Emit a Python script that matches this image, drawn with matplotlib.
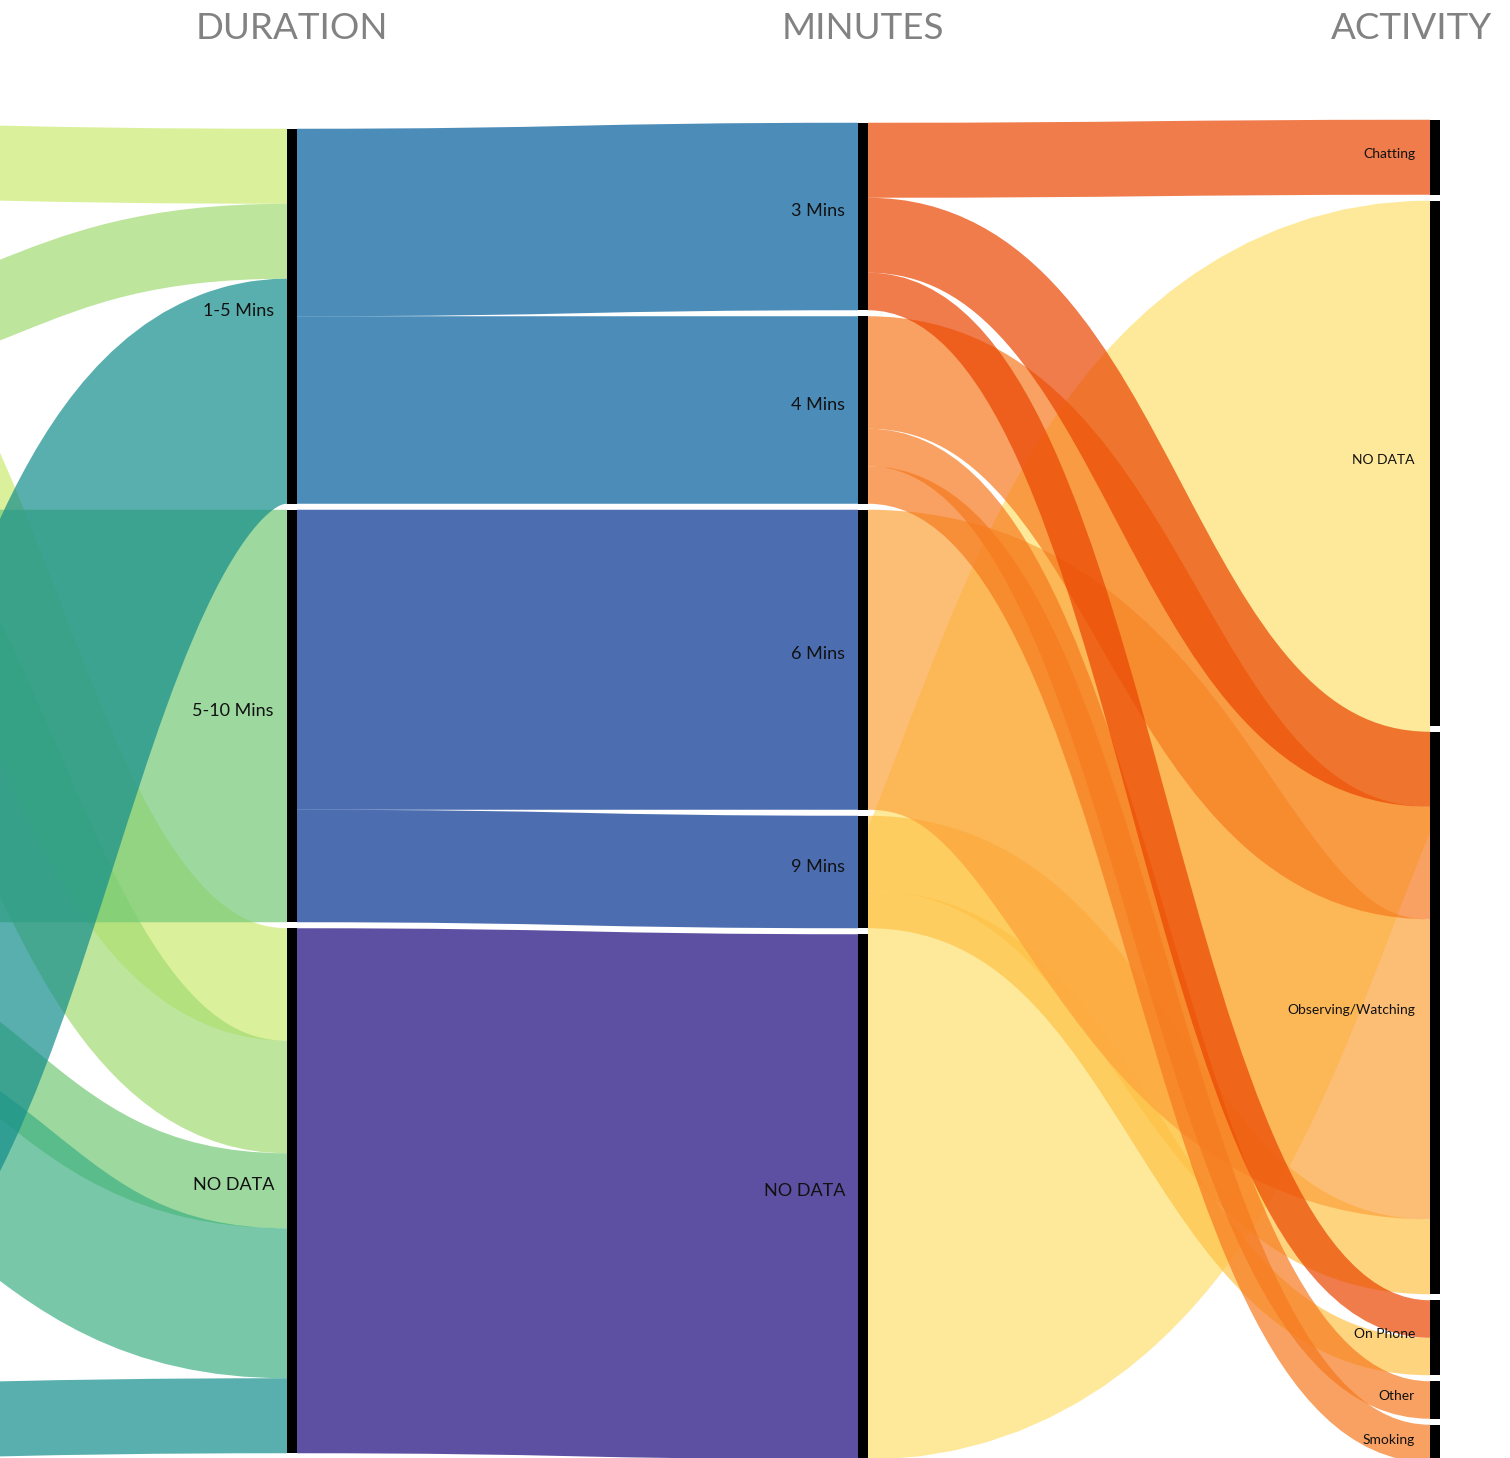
"""Three-column sankey: DURATION -> MINUTES -> ACTIVITY (first column cut off on the left)."""

import matplotlib.pyplot as plt
import numpy as np
from matplotlib.colors import to_rgb
from matplotlib.patches import PathPatch, Rectangle
from matplotlib.path import Path

W, H, DPI = 1510, 1458, 100

# node names per column, top to bottom; the first column sits left of the picture
SOURCE_NODES = ["S1", "S2", "S3", "S4", "S5"]
DURATION_NODES = ["1-5 Mins", "5-10 Mins", "NO DATA"]
MINUTES_NODES = ["3 Mins", "4 Mins", "6 Mins", "9 Mins", "NO DATA"]
ACTIVITY_NODES = ["Chatting", "NO DATA", "Observing/Watching", "On Phone", "Other", "Smoking"]
HEADERS = ["", "DURATION", "MINUTES", "ACTIVITY"]

# links: (source, target, count)
SOURCE_TO_DURATION = [
    ("S1", "1-5 Mins", 2), ("S1", "NO DATA", 3),
    ("S2", "1-5 Mins", 2), ("S2", "NO DATA", 3),
    ("S3", "5-10 Mins", 11), ("S3", "NO DATA", 2),
    ("S4", "NO DATA", 4),
    ("S5", "1-5 Mins", 6), ("S5", "NO DATA", 2),
]
DURATION_TO_MINUTES = [
    ("1-5 Mins", "3 Mins", 5), ("1-5 Mins", "4 Mins", 5),
    ("5-10 Mins", "6 Mins", 8), ("5-10 Mins", "9 Mins", 3),
    ("NO DATA", "NO DATA", 14),
]
MINUTES_TO_ACTIVITY = [
    ("3 Mins", "Chatting", 2), ("3 Mins", "Observing/Watching", 2), ("3 Mins", "On Phone", 1),
    ("4 Mins", "Observing/Watching", 3), ("4 Mins", "Other", 1), ("4 Mins", "Smoking", 1),
    ("6 Mins", "Observing/Watching", 8),
    ("9 Mins", "Observing/Watching", 2), ("9 Mins", "On Phone", 1),
    ("NO DATA", "NO DATA", 14),
]

# link colour (as seen over white) by source node
SOURCE_COLORS = ["#dcf09a", "#bde69c", "#9ed9a0", "#78c8a8", "#5aafae"]
DURATION_COLORS = ["#418dba", "#486fb2", "#5e50a2"]
MINUTES_COLORS = ["#f07c4a", "#f9a262", "#fdbe76", "#fed47e", "#fee99a"]

COLUMNS = [SOURCE_NODES, DURATION_NODES, MINUTES_NODES, ACTIVITY_NODES]
LINKS = [SOURCE_TO_DURATION, DURATION_TO_MINUTES, MINUTES_TO_ACTIVITY]
COLORS = [SOURCE_COLORS, DURATION_COLORS, MINUTES_COLORS]

# layout (pixels)
COL_X = [-284, 287, 858, 1430]
NODE_W = 10
UNIT = 37.5
GAP = 6
MID_Y = 791
ALPHA = 0.70
STUB = 8  # straight piece hidden under the bars so the butt caps stay vertical


def ink(hex_color, alpha):
    """Colour that gives hex_color when painted over white with the given alpha."""
    seen = np.array(to_rgb(hex_color))
    return tuple(np.clip((seen - (1 - alpha)) / alpha, 0, 1))


def layout():
    values = []
    for c, nodes in enumerate(COLUMNS):
        inflow = {n: 0 for n in nodes}
        outflow = {n: 0 for n in nodes}
        if c > 0:
            for s, t, v in LINKS[c - 1]:
                inflow[t] += v
        if c < len(LINKS):
            for s, t, v in LINKS[c]:
                outflow[s] += v
        values.append([max(inflow[n], outflow[n]) for n in nodes])

    tops = []
    for vals in values:
        span = sum(vals) * UNIT + (len(vals) - 1) * GAP
        y = MID_Y - span / 2
        col = []
        for v in vals:
            col.append(y)
            y += v * UNIT + GAP
        tops.append(col)
    return values, tops


def main():
    values, tops = layout()

    fig = plt.figure(figsize=(W / DPI, H / DPI), dpi=DPI)
    ax = fig.add_axes([0, 0, 1, 1])
    ax.set_xlim(0, W)
    ax.set_ylim(H, 0)
    ax.axis("off")

    for c, links in enumerate(LINKS):
        src_nodes, tgt_nodes = COLUMNS[c], COLUMNS[c + 1]
        src_off = {n: 0.0 for n in src_nodes}
        tgt_off = {n: 0.0 for n in tgt_nodes}
        sy, ty = {}, {}
        for i, (s, t, v) in sorted(enumerate(links), key=lambda k: (src_nodes.index(k[1][0]), tgt_nodes.index(k[1][1]))):
            sy[i] = src_off[s]
            src_off[s] += v * UNIT
        for i, (s, t, v) in sorted(enumerate(links), key=lambda k: (tgt_nodes.index(k[1][1]), src_nodes.index(k[1][0]))):
            ty[i] = tgt_off[t]
            tgt_off[t] += v * UNIT

        x0 = COL_X[c] + NODE_W
        x1 = COL_X[c + 1]
        xm = (x0 + x1) / 2
        clip_x0 = max(0, x0)

        # lighter links first so the deeper tones sit on top
        order = sorted(range(len(links)),
                       key=lambda i: -sum(to_rgb(COLORS[c][src_nodes.index(links[i][0])])))
        for i in order:
            s, t, v = links[i]
            w = v * UNIT
            y0 = tops[c][src_nodes.index(s)] + sy[i] + w / 2
            y1 = tops[c + 1][tgt_nodes.index(t)] + ty[i] + w / 2
            path = Path([(x0 - STUB, y0), (x0, y0), (xm, y0), (xm, y1), (x1, y1), (x1 + STUB, y1)],
                        [Path.MOVETO, Path.LINETO, Path.CURVE4, Path.CURVE4, Path.CURVE4, Path.LINETO])
            color = ink(COLORS[c][src_nodes.index(s)], ALPHA)
            patch = PathPatch(path, facecolor="none", edgecolor=color, alpha=ALPHA,
                              lw=w * 72 / DPI, capstyle="butt", joinstyle="round")
            ax.add_patch(patch)
            clip = Rectangle((clip_x0, -50), x1 - clip_x0, H + 100, transform=ax.transData)
            patch.set_clip_path(clip)

    # node bars and labels for the visible columns
    for c in range(1, len(COLUMNS)):
        small = c == len(COLUMNS) - 1
        for n, name in enumerate(COLUMNS[c]):
            h = values[c][n] * UNIT
            ax.add_patch(Rectangle((COL_X[c], tops[c][n]), NODE_W, h, facecolor="black", lw=0))
            ax.text(COL_X[c] - (15 if small else 13), tops[c][n] + h / 2 + (0.5 if small else -0.5),
                    name, ha="right", va="baseline", fontsize=10 if small else 13,
                    family="Lato", color="#111111")

    for c in range(1, len(COLUMNS)):
        last = c == len(COLUMNS) - 1
        ax.text(W - 18 if last else COL_X[c] + NODE_W / 2, 39, HEADERS[c],
                ha="right" if last else "center", va="baseline", fontsize=26.5,
                family="Lato", color="#828282")

    fig.savefig("out.png", dpi=DPI)


if __name__ == "__main__":
    main()
